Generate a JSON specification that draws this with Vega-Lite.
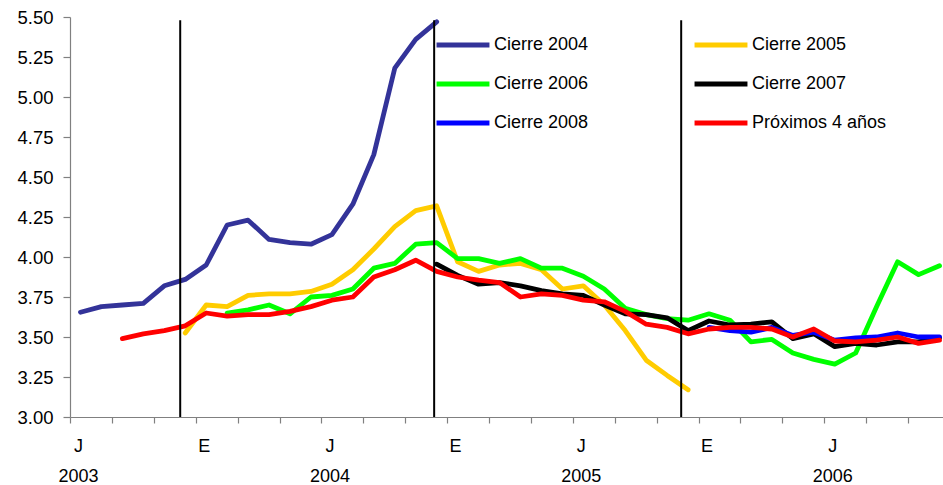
{
  "$schema": "https://vega.github.io/schema/vega-lite/v6.json",
  "width": 880,
  "height": 400,
  "autosize": {"type": "none"},
  "padding": {"left": 70, "top": 17, "right": 0, "bottom": 68},
  "background": "white",
  "config": {
    "view": {"stroke": null},
    "font": "Liberation Sans",
    "axis": {"labelFont": "Liberation Sans", "labelColor": "#000000", "grid": false, "domainColor": "#808080", "tickColor": "#808080", "domainWidth": 1.2, "tickWidth": 1.2}
  },
  "datasets": {
    "series": [
      {"serie": "Cierre 2004", "m": 0, "v": 3.655}, {"serie": "Cierre 2004", "m": 1, "v": 3.69}, {"serie": "Cierre 2004", "m": 2, "v": 3.70}, {"serie": "Cierre 2004", "m": 3, "v": 3.71}, {"serie": "Cierre 2004", "m": 4, "v": 3.82}, {"serie": "Cierre 2004", "m": 5, "v": 3.86}, {"serie": "Cierre 2004", "m": 6, "v": 3.95}, {"serie": "Cierre 2004", "m": 7, "v": 4.20}, {"serie": "Cierre 2004", "m": 8, "v": 4.23}, {"serie": "Cierre 2004", "m": 9, "v": 4.11}, {"serie": "Cierre 2004", "m": 10, "v": 4.09}, {"serie": "Cierre 2004", "m": 11, "v": 4.08}, {"serie": "Cierre 2004", "m": 12, "v": 4.14}, {"serie": "Cierre 2004", "m": 13, "v": 4.33}, {"serie": "Cierre 2004", "m": 14, "v": 4.64}, {"serie": "Cierre 2004", "m": 15, "v": 5.18}, {"serie": "Cierre 2004", "m": 16, "v": 5.36}, {"serie": "Cierre 2004", "m": 17, "v": 5.47},
      {"serie": "Cierre 2005", "m": 5, "v": 3.525}, {"serie": "Cierre 2005", "m": 6, "v": 3.70}, {"serie": "Cierre 2005", "m": 7, "v": 3.69}, {"serie": "Cierre 2005", "m": 8, "v": 3.76}, {"serie": "Cierre 2005", "m": 9, "v": 3.77}, {"serie": "Cierre 2005", "m": 10, "v": 3.77}, {"serie": "Cierre 2005", "m": 11, "v": 3.785}, {"serie": "Cierre 2005", "m": 12, "v": 3.83}, {"serie": "Cierre 2005", "m": 13, "v": 3.92}, {"serie": "Cierre 2005", "m": 14, "v": 4.05}, {"serie": "Cierre 2005", "m": 15, "v": 4.19}, {"serie": "Cierre 2005", "m": 16, "v": 4.29}, {"serie": "Cierre 2005", "m": 17, "v": 4.32}, {"serie": "Cierre 2005", "m": 18, "v": 3.97}, {"serie": "Cierre 2005", "m": 19, "v": 3.91}, {"serie": "Cierre 2005", "m": 20, "v": 3.95}, {"serie": "Cierre 2005", "m": 21, "v": 3.96}, {"serie": "Cierre 2005", "m": 22, "v": 3.92}, {"serie": "Cierre 2005", "m": 23, "v": 3.80}, {"serie": "Cierre 2005", "m": 24, "v": 3.82}, {"serie": "Cierre 2005", "m": 25, "v": 3.70}, {"serie": "Cierre 2005", "m": 26, "v": 3.54}, {"serie": "Cierre 2005", "m": 27, "v": 3.355}, {"serie": "Cierre 2005", "m": 28, "v": 3.26}, {"serie": "Cierre 2005", "m": 29, "v": 3.17},
      {"serie": "Cierre 2006", "m": 7, "v": 3.65}, {"serie": "Cierre 2006", "m": 8, "v": 3.67}, {"serie": "Cierre 2006", "m": 9, "v": 3.70}, {"serie": "Cierre 2006", "m": 10, "v": 3.645}, {"serie": "Cierre 2006", "m": 11, "v": 3.75}, {"serie": "Cierre 2006", "m": 12, "v": 3.76}, {"serie": "Cierre 2006", "m": 13, "v": 3.80}, {"serie": "Cierre 2006", "m": 14, "v": 3.93}, {"serie": "Cierre 2006", "m": 15, "v": 3.96}, {"serie": "Cierre 2006", "m": 16, "v": 4.08}, {"serie": "Cierre 2006", "m": 17, "v": 4.09}, {"serie": "Cierre 2006", "m": 18, "v": 3.99}, {"serie": "Cierre 2006", "m": 19, "v": 3.99}, {"serie": "Cierre 2006", "m": 20, "v": 3.96}, {"serie": "Cierre 2006", "m": 21, "v": 3.99}, {"serie": "Cierre 2006", "m": 22, "v": 3.93}, {"serie": "Cierre 2006", "m": 23, "v": 3.93}, {"serie": "Cierre 2006", "m": 24, "v": 3.88}, {"serie": "Cierre 2006", "m": 25, "v": 3.80}, {"serie": "Cierre 2006", "m": 26, "v": 3.68}, {"serie": "Cierre 2006", "m": 27, "v": 3.64}, {"serie": "Cierre 2006", "m": 28, "v": 3.615}, {"serie": "Cierre 2006", "m": 29, "v": 3.605}, {"serie": "Cierre 2006", "m": 30, "v": 3.645}, {"serie": "Cierre 2006", "m": 31, "v": 3.605}, {"serie": "Cierre 2006", "m": 32, "v": 3.47}, {"serie": "Cierre 2006", "m": 33, "v": 3.485}, {"serie": "Cierre 2006", "m": 34, "v": 3.40}, {"serie": "Cierre 2006", "m": 35, "v": 3.36}, {"serie": "Cierre 2006", "m": 36, "v": 3.33}, {"serie": "Cierre 2006", "m": 37, "v": 3.40}, {"serie": "Cierre 2006", "m": 38, "v": 3.69}, {"serie": "Cierre 2006", "m": 39, "v": 3.97}, {"serie": "Cierre 2006", "m": 40, "v": 3.89}, {"serie": "Cierre 2006", "m": 41, "v": 3.945},
      {"serie": "Cierre 2007", "m": 17, "v": 3.955}, {"serie": "Cierre 2007", "m": 18, "v": 3.885}, {"serie": "Cierre 2007", "m": 19, "v": 3.83}, {"serie": "Cierre 2007", "m": 20, "v": 3.84}, {"serie": "Cierre 2007", "m": 21, "v": 3.82}, {"serie": "Cierre 2007", "m": 22, "v": 3.79}, {"serie": "Cierre 2007", "m": 23, "v": 3.77}, {"serie": "Cierre 2007", "m": 24, "v": 3.76}, {"serie": "Cierre 2007", "m": 25, "v": 3.70}, {"serie": "Cierre 2007", "m": 26, "v": 3.645}, {"serie": "Cierre 2007", "m": 27, "v": 3.64}, {"serie": "Cierre 2007", "m": 28, "v": 3.62}, {"serie": "Cierre 2007", "m": 29, "v": 3.54}, {"serie": "Cierre 2007", "m": 30, "v": 3.60}, {"serie": "Cierre 2007", "m": 31, "v": 3.575}, {"serie": "Cierre 2007", "m": 32, "v": 3.58}, {"serie": "Cierre 2007", "m": 33, "v": 3.595}, {"serie": "Cierre 2007", "m": 34, "v": 3.49}, {"serie": "Cierre 2007", "m": 35, "v": 3.52}, {"serie": "Cierre 2007", "m": 36, "v": 3.44}, {"serie": "Cierre 2007", "m": 37, "v": 3.46}, {"serie": "Cierre 2007", "m": 38, "v": 3.45}, {"serie": "Cierre 2007", "m": 39, "v": 3.47}, {"serie": "Cierre 2007", "m": 40, "v": 3.47}, {"serie": "Cierre 2007", "m": 41, "v": 3.495},
      {"serie": "Cierre 2008", "m": 30, "v": 3.56}, {"serie": "Cierre 2008", "m": 31, "v": 3.54}, {"serie": "Cierre 2008", "m": 32, "v": 3.53}, {"serie": "Cierre 2008", "m": 33, "v": 3.56}, {"serie": "Cierre 2008", "m": 34, "v": 3.51}, {"serie": "Cierre 2008", "m": 35, "v": 3.53}, {"serie": "Cierre 2008", "m": 36, "v": 3.48}, {"serie": "Cierre 2008", "m": 37, "v": 3.495}, {"serie": "Cierre 2008", "m": 38, "v": 3.50}, {"serie": "Cierre 2008", "m": 39, "v": 3.525}, {"serie": "Cierre 2008", "m": 40, "v": 3.50}, {"serie": "Cierre 2008", "m": 41, "v": 3.50},
      {"serie": "Próximos 4 años", "m": 2, "v": 3.49}, {"serie": "Próximos 4 años", "m": 3, "v": 3.52}, {"serie": "Próximos 4 años", "m": 4, "v": 3.54}, {"serie": "Próximos 4 años", "m": 5, "v": 3.57}, {"serie": "Próximos 4 años", "m": 6, "v": 3.65}, {"serie": "Próximos 4 años", "m": 7, "v": 3.63}, {"serie": "Próximos 4 años", "m": 8, "v": 3.64}, {"serie": "Próximos 4 años", "m": 9, "v": 3.64}, {"serie": "Próximos 4 años", "m": 10, "v": 3.66}, {"serie": "Próximos 4 años", "m": 11, "v": 3.69}, {"serie": "Próximos 4 años", "m": 12, "v": 3.73}, {"serie": "Próximos 4 años", "m": 13, "v": 3.75}, {"serie": "Próximos 4 años", "m": 14, "v": 3.875}, {"serie": "Próximos 4 años", "m": 15, "v": 3.92}, {"serie": "Próximos 4 años", "m": 16, "v": 3.98}, {"serie": "Próximos 4 años", "m": 17, "v": 3.91}, {"serie": "Próximos 4 años", "m": 18, "v": 3.875}, {"serie": "Próximos 4 años", "m": 19, "v": 3.855}, {"serie": "Próximos 4 años", "m": 20, "v": 3.84}, {"serie": "Próximos 4 años", "m": 21, "v": 3.75}, {"serie": "Próximos 4 años", "m": 22, "v": 3.77}, {"serie": "Próximos 4 años", "m": 23, "v": 3.76}, {"serie": "Próximos 4 años", "m": 24, "v": 3.73}, {"serie": "Próximos 4 años", "m": 25, "v": 3.72}, {"serie": "Próximos 4 años", "m": 26, "v": 3.66}, {"serie": "Próximos 4 años", "m": 27, "v": 3.58}, {"serie": "Próximos 4 años", "m": 28, "v": 3.56}, {"serie": "Próximos 4 años", "m": 29, "v": 3.52}, {"serie": "Próximos 4 años", "m": 30, "v": 3.55}, {"serie": "Próximos 4 años", "m": 31, "v": 3.56}, {"serie": "Próximos 4 años", "m": 32, "v": 3.56}, {"serie": "Próximos 4 años", "m": 33, "v": 3.55}, {"serie": "Próximos 4 años", "m": 34, "v": 3.50}, {"serie": "Próximos 4 años", "m": 35, "v": 3.55}, {"serie": "Próximos 4 años", "m": 36, "v": 3.475}, {"serie": "Próximos 4 años", "m": 37, "v": 3.47}, {"serie": "Próximos 4 años", "m": 38, "v": 3.48}, {"serie": "Próximos 4 años", "m": 39, "v": 3.50}, {"serie": "Próximos 4 años", "m": 40, "v": 3.46}, {"serie": "Próximos 4 años", "m": 41, "v": 3.48}
    ],
    "cortes": [
      {"m": 4.76, "v": 3.0, "v2": 5.48},
      {"m": 16.88, "v": 3.0, "v2": 5.48},
      {"m": 28.67, "v": 3.0, "v2": 5.48}
    ]
  },
  "encoding": {
    "x": {
      "field": "m", "type": "quantitative",
      "scale": {"domain": [-0.5, 41.5], "nice": false, "zero": false},
      "axis": {
        "title": null,
        "values": [-0.5, 0, 1.5, 3.5, 5.5, 6, 7.5, 9.5, 11.5, 12, 13.5, 15.5, 17.5, 18, 19.5, 21.5, 23.5, 24, 25.5, 27.5, 29.5, 30, 31.5, 33.5, 35.5, 36, 37.5, 39.5, 41.5],
        "labelExpr": "datum.value != floor(datum.value) ? '' : (datum.value % 12 == 0 ? ['J', '' + (2003 + datum.value / 12)] : 'E')",
        "tickOpacity": {"condition": {"test": "datum.value == floor(datum.value)", "value": 0}, "value": 1},
        "tickSize": 6,
        "labelPadding": 14,
        "labelOffset": -2.5,
        "labelFontSize": 18,
        "labelLineHeight": 30,
        "labelOverlap": false,
        "labelFlush": false
      }
    },
    "y": {
      "field": "v", "type": "quantitative",
      "scale": {"domain": [3, 5.5], "nice": false, "zero": false},
      "axis": {
        "title": null,
        "values": [3, 3.25, 3.5, 3.75, 4, 4.25, 4.5, 4.75, 5, 5.25, 5.5],
        "format": ".2f",
        "tickSize": 7,
        "labelPadding": 10,
        "labelFontSize": 18.5,
        "labelOverlap": false,
        "labelFlush": false
      }
    }
  },
  "layer": [
    {
      "data": {"name": "series"},
      "mark": {"type": "line", "strokeWidth": 4.8, "strokeJoin": "round", "strokeCap": "round"},
      "encoding": {
        "color": {
          "field": "serie", "type": "nominal",
          "scale": {
            "domain": ["Cierre 2004", "Cierre 2006", "Cierre 2008", "Cierre 2005", "Cierre 2007", "Próximos 4 años"],
            "range": ["#333399", "#00FF00", "#0000FF", "#FFCC00", "#000000", "#FF0000"]
          },
          "legend": {
            "title": null,
            "orient": "none",
            "legendX": 364,
            "legendY": -1,
            "columns": 2,
            "columnPadding": 95,
            "rowPadding": -1,
            "symbolType": "stroke",
            "symbolSize": 2800,
            "symbolStrokeWidth": 5,
            "labelFontSize": 18,
            "labelFont": "Liberation Sans",
            "labelColor": "#000000",
            "labelOffset": 2
          }
        }
      }
    },
    {
      "data": {"name": "cortes"},
      "mark": {"type": "rule", "color": "#000000", "strokeWidth": 2},
      "encoding": {
        "y2": {"field": "v2"}
      }
    }
  ]
}
